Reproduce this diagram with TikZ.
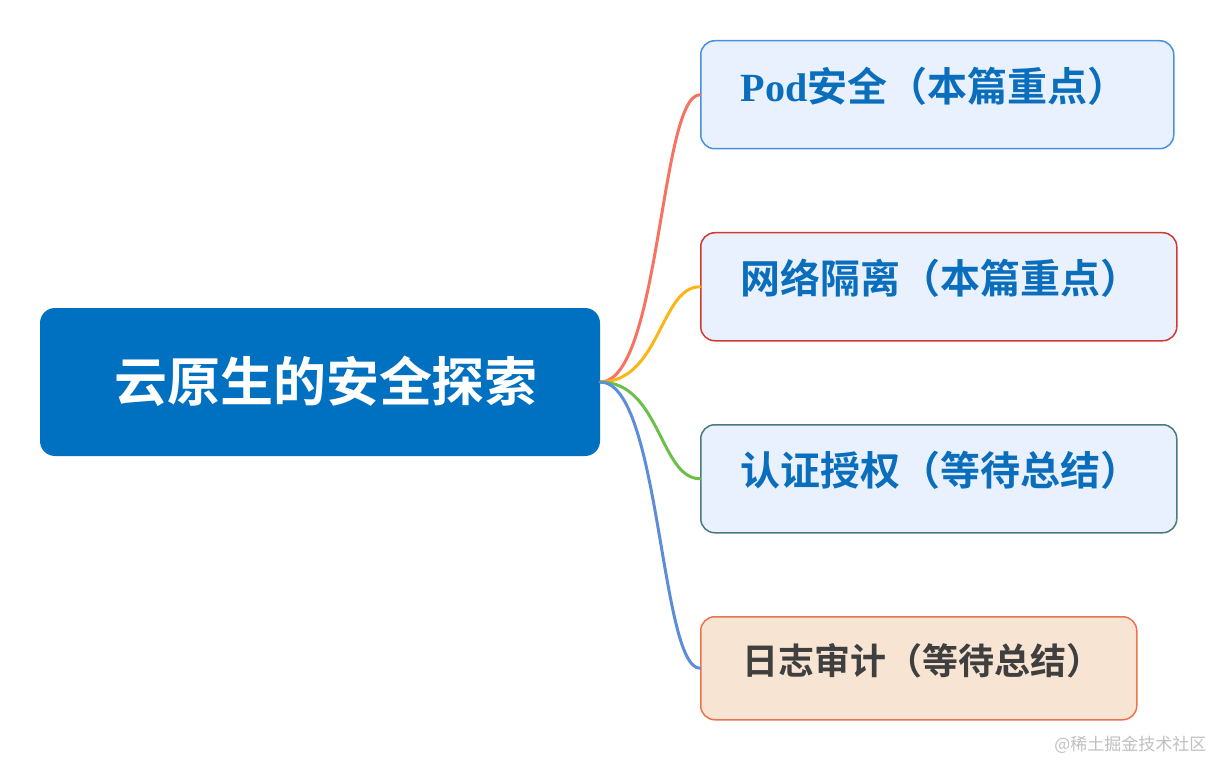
\documentclass[tikz,border=0pt]{standalone}
\usepackage{fontspec}
\setmainfont{Noto Sans CJK SC}
\newfontfamily\cjkbold{Noto Sans CJK SC Bold}
\newfontfamily\latinserif{Liberation Serif}
\usetikzlibrary{positioning,calc}
\definecolor{rootBlue}{HTML}{0070C0}
\definecolor{textBlue}{HTML}{0A6EBD}
\definecolor{paleBlue}{HTML}{E8F1FD}
\definecolor{paleOrange}{HTML}{F8E4D2}
\definecolor{podEdge}{HTML}{4A8FE0}
\definecolor{netEdge}{HTML}{D03A33}
\definecolor{authEdge}{HTML}{4A7A7E}
\definecolor{logEdge}{HTML}{E8754F}
\definecolor{darkText}{HTML}{3F3F3F}
\definecolor{lineRed}{HTML}{F87262}
\definecolor{lineOrange}{HTML}{FDB515}
\definecolor{lineGreen}{HTML}{6CC04A}
\definecolor{lineBlue}{HTML}{5B8DDB}
\tikzset{
  rootbox/.style={rectangle, rounded corners=15pt, fill=rootBlue, text=white,
                  minimum width=560pt, minimum height=148pt, inner sep=0pt,
                  text height=40pt, text depth=2pt,
                  font=\cjkbold\fontsize{53}{57}\selectfont},
  topic/.style={rectangle, rounded corners=14pt, line width=1.5pt, fill=paleBlue,
                anchor=north west, minimum height=108pt, inner xsep=40pt,
                text height=35pt, text depth=21pt,
                align=left, text=textBlue, font=\cjkbold\fontsize{40}{44}\selectfont},
  branch/.style={line width=3pt, line cap=round}
}
\begin{document}
\begin{tikzpicture}[x=1pt,y=-1pt]
\useasboundingbox (0,0) rectangle (1216,762);
\node[rootbox] (root) at (320,382) {\hspace*{12pt}云原生的安全探索};

\node[topic, draw=podEdge, text width=393pt] (pod) at (700,40)
  {{\latinserif\bfseries Pod}安全（本篇重点）};
\node[topic, draw=netEdge, text width=396pt] (net) at (700,232)
  {网络隔离（本篇重点）};
\node[topic, draw=authEdge, text width=396pt] (auth) at (700,424)
  {认证授权（等待总结）};
\node[topic, draw=logEdge, fill=paleOrange, text=darkText, text width=352pt,
      minimum height=103pt, inner xsep=42pt, text height=32pt, text depth=20pt,
      font=\cjkbold\fontsize{36}{40}\selectfont] (log) at (700,616)
  {日志审计（等待总结）};

% branches from the root
\draw[branch, lineRed] (root.east) .. controls ($(root.east)+(60,0)$) and ($(pod.west)+(-40,0)$) .. (pod.west);
\draw[branch, lineOrange] (root.east) .. controls ($(root.east)+(60,0)$) and ($(net.west)+(-40,0)$) .. (net.west);
\draw[branch, lineGreen] (root.east) .. controls ($(root.east)+(60,0)$) and ($(auth.west)+(-40,0)$) .. (auth.west);
\draw[branch, lineBlue] (root.east) .. controls ($(root.east)+(60,0)$) and ($(log.west)+(-40,0)$) .. (log.west);

\node[anchor=east, text=black!25, font=\fontsize{17}{19}\selectfont] (mark) at (1210,745) {@稀土掘金技术社区};
\end{tikzpicture}
\end{document}
